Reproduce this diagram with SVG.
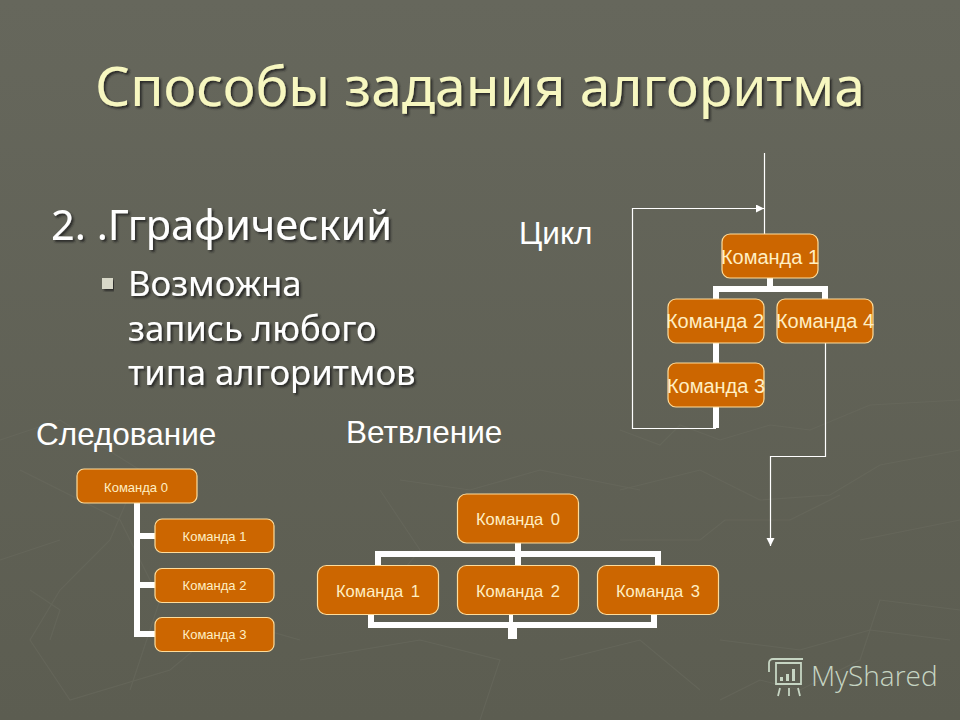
<svg xmlns="http://www.w3.org/2000/svg" width="960" height="720" viewBox="0 0 960 720">
<style>
text{font-family:"Liberation Sans",Arial,sans-serif}
.ttl{font-size:55px;fill:#f7f7c0;filter:url(#sh);font-family:"Noto Sans",sans-serif}
.h{font-size:41.500px;fill:#fff;filter:url(#sh);font-family:"Noto Sans",sans-serif}
.b{font-size:34.700px;fill:#fff;filter:url(#sh);font-family:"Noto Sans",sans-serif}
.lab{font-size:31.500px;fill:#fff}
.n rect{fill:#cc6600;stroke:#ffdc9a;stroke-width:1.2}
.n text{fill:#ffefc4;text-anchor:middle}
.s text{font-size:13px}
.m text{font-size:16.500px}
.l text{font-size:20px}
.thick{fill:none;stroke:#fff;stroke-width:6}
.thin{fill:none;stroke:#fff;stroke-width:1.2}
.tex{fill:none;stroke:#6a6b5f;stroke-width:1.1;opacity:.55}
</style>
<defs>
<linearGradient id="bg" x1="0" y1="0" x2="0" y2="1"><stop offset="0" stop-color="#66675c"/><stop offset="1" stop-color="#5c5d51"/></linearGradient>
<filter id="sh" x="-5%" y="-20%" width="110%" height="140%"><feDropShadow dx="2" dy="2" stdDeviation="0.8" flood-color="#20201a" flood-opacity=".85"/></filter>
<marker id="ah" markerUnits="userSpaceOnUse" markerWidth="9" markerHeight="9" refX="8" refY="4" orient="auto"><path d="M0 0L8 4L0 8Z" fill="#fff"/></marker>
</defs>
<rect width="960" height="720" fill="url(#bg)"/>
<g id="texture" class="tex">
<path d="M620 430L660 445L680 425L720 440L770 425L810 430L870 405L960 400"/>
<path d="M620 490L700 470L760 500L830 495L880 465L960 450"/>
<path d="M620 540L700 540L725 520L790 520L840 495"/>
<path d="M860 540L960 520M960 610L880 600L860 660L800 690L760 680L720 700"/>
<path d="M400 480L470 490L540 470L640 490M380 490L420 550L370 610M720 640L800 650L870 630L950 640"/>
<path d="M0 440L60 420L140 470L110 540L60 590L30 640L70 700L170 670L230 620L300 640"/>
<path d="M20 470L120 520L160 600L130 690M30 590L60 610L50 640M0 560L60 540"/>
<path d="M300 660L420 640L500 660L480 720M560 660L640 640L700 690"/>
</g>
<g id="watermark">
<path d="M773 659H803M773 659a4 4 0 0 0-4 4v9M776 663H801V684H776ZM780 688L778 696M789 688V696M798 688L800 696" fill="none" stroke="#c6d5c3" stroke-width="1.8"/>
<path d="M780 677h3v4h-3zM786 674h3v7h-3zM792 669h3v12h-3z" fill="#c6d5c3"/>
<text x="811" y="686" font-size="28" fill="#c6d5c3" style="font-family:'Open Sans',sans-serif;font-weight:300">MyShared</text>
</g>
<text id="title" class="ttl" x="95" y="106">Способы задания алгоритма</text>
<text class="h" x="51" y="240">2. .Ггрaфический</text>
<rect x="102" y="278" width="11" height="11" fill="#d8d8c8" filter="url(#sh)"/>
<text class="b" x="128" y="296">Возможна</text>
<text class="b" x="128" y="341">запись любого</text>
<text class="b" x="128" y="385">типа алгоритмов</text>
<text class="lab" x="519" y="244">Цикл</text>
<text class="lab" x="36" y="445">Следование</text>
<text class="lab" x="346" y="443">Ветвление</text>
<g id="connectors">
<path class="thick" d="M770 278V289M716 299V289H825V299M716 343V363M716 407V428"/>
<path class="thin" d="M764.500 153V234"/>
<path class="thin" d="M716 428.500H632.500V208.500H764" marker-end="url(#ah)"/>
<path class="thin" d="M825.500 343V456.500H770.500V546" marker-end="url(#ah)"/>
<path class="thick" d="M137 503V634H155M137 536H155M137 585H155"/>
<path class="thick" d="M518 542V565M378 565V554H658V565"/>
<path class="thick" d="M371 612V625H654V612"/>
<path d="M509 614h4v8h-4zM508 622h9v17h-9z" fill="#fff"/>
</g>
<g id="c1" class="n l"><rect x="722" y="234" width="96" height="44" rx="8"/><text x="770" y="264">Команда 1</text></g>
<g id="c2" class="n l"><rect x="668" y="299" width="96" height="44" rx="8"/><text x="715" y="328">Команда 2</text></g>
<g id="c4" class="n l"><rect x="777" y="299" width="96" height="44" rx="8"/><text x="825" y="328">Команда 4</text></g>
<g id="c3" class="n l"><rect x="668" y="363" width="96" height="44" rx="8"/><text x="716" y="393">Команда 3</text></g>
<g id="s0" class="n s"><rect x="77" y="469" width="120" height="34" rx="7"/><text x="136" y="492">Команда 0</text></g>
<g id="s1" class="n s"><rect x="155" y="519" width="119" height="33.500" rx="7"/><text x="214.500" y="541">Команда 1</text></g>
<g id="s2" class="n s"><rect x="155" y="568.500" width="119" height="34" rx="7"/><text x="214.500" y="590">Команда 2</text></g>
<g id="s3" class="n s"><rect x="155" y="617.500" width="119" height="34" rx="7"/><text x="214.500" y="639">Команда 3</text></g>
<g id="b0" class="n m"><rect x="457.500" y="494" width="121" height="49" rx="9"/><text x="518" y="525" word-spacing="3">Команда 0</text></g>
<g id="b1" class="n m"><rect x="317.500" y="565.500" width="121" height="49" rx="9"/><text x="378" y="597" word-spacing="3">Команда 1</text></g>
<g id="b2" class="n m"><rect x="457.500" y="565.500" width="121" height="49" rx="9"/><text x="518" y="597" word-spacing="3">Команда 2</text></g>
<g id="b3" class="n m"><rect x="597.500" y="565.500" width="121" height="49" rx="9"/><text x="658" y="597" word-spacing="3">Команда 3</text></g>
</svg>
